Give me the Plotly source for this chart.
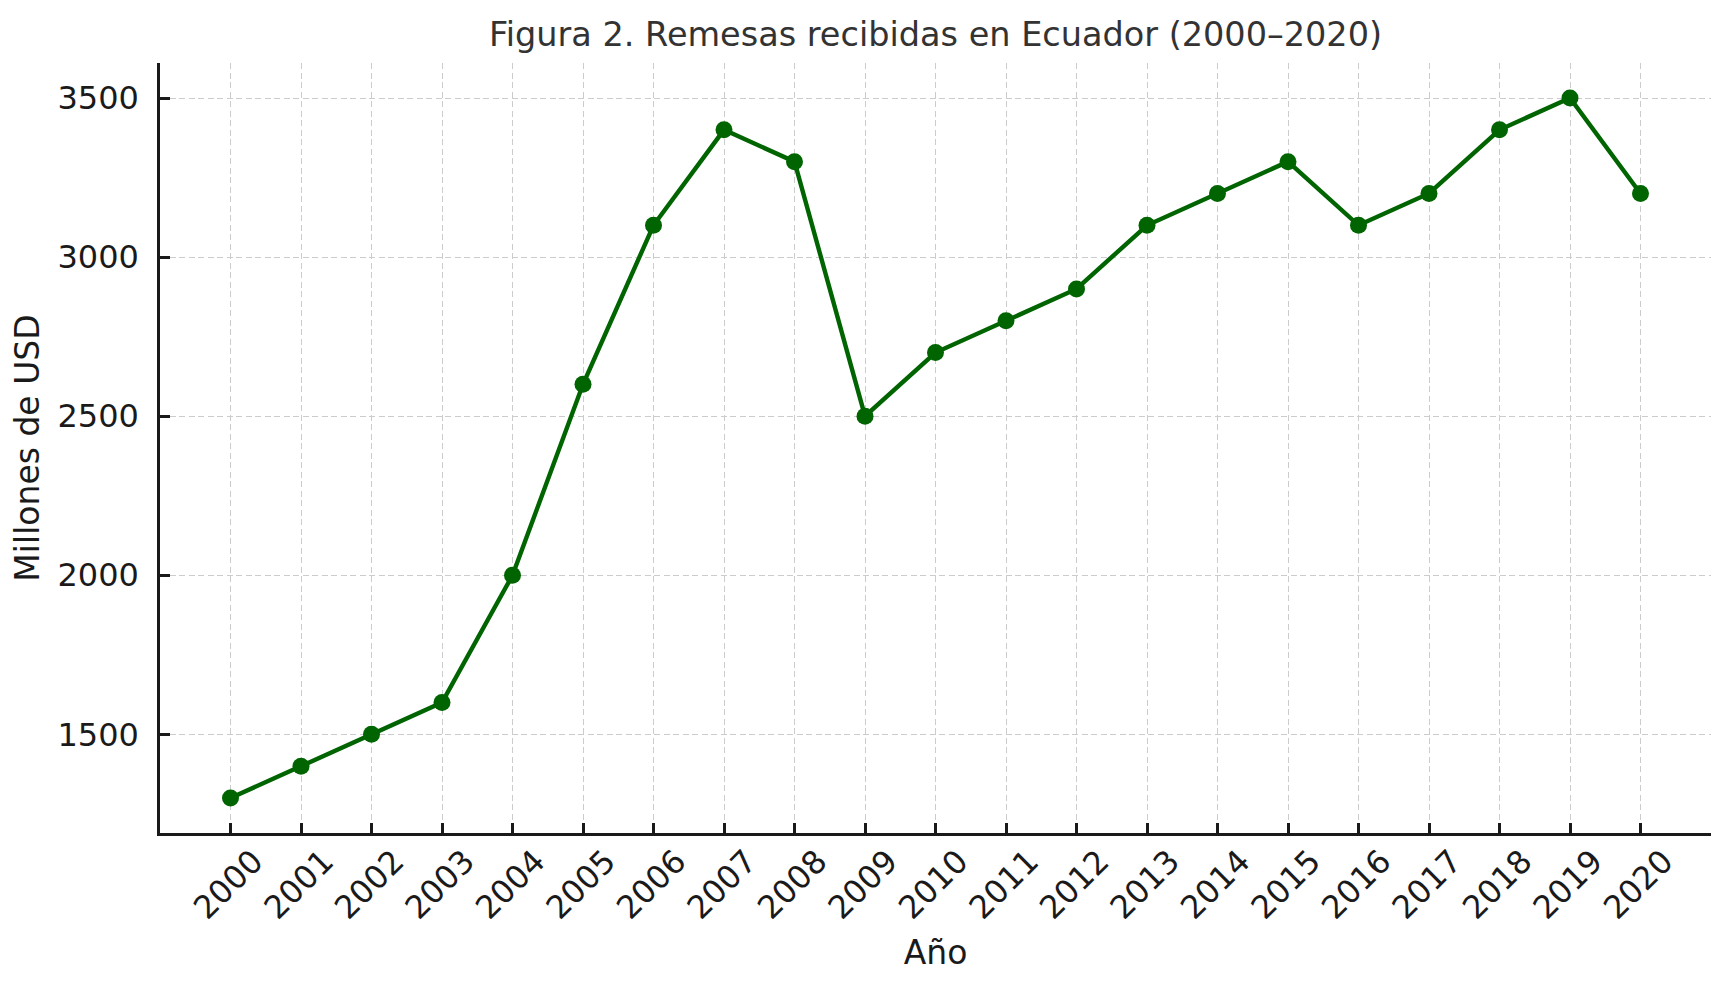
import plotly.graph_objects as go

years = [2000, 2001, 2002, 2003, 2004, 2005, 2006, 2007, 2008, 2009, 2010,
         2011, 2012, 2013, 2014, 2015, 2016, 2017, 2018, 2019, 2020]
remesas = [1300, 1400, 1500, 1600, 2000, 2600, 3100, 3400, 3300, 2500, 2700,
           2800, 2900, 3100, 3200, 3300, 3100, 3200, 3400, 3500, 3200]
y_ticks = [1500, 2000, 2500, 3000, 3500]
title_text = "Figura 2. Remesas recibidas en Ecuador (2000–2020)"

FONT = "DejaVu Sans"
GREEN = "#006400"
AXIS = "#1a1a1a"

fig = go.Figure()
fig.add_trace(go.Scatter(
    x=years, y=remesas, mode="lines+markers",
    line=dict(color=GREEN, width=4.4),
    marker=dict(color=GREEN, size=17, line=dict(width=0)),
    showlegend=False,
))

fig.update_layout(
    width=1728, height=990,
    margin=dict(l=160, r=17, t=63, b=157),
    paper_bgcolor="white", plot_bgcolor="white",
    font=dict(family=FONT, color=AXIS, size=32),
    title=dict(text=title_text, x=0.5, xref="paper", xanchor="center",
               y=1 - 34 / 990, yref="container", yanchor="middle",
               font=dict(family=FONT, size=33.5, color="#333333")),
)

fig.update_xaxes(
    range=[1999, 2021], tickmode="array", tickvals=years,
    ticktext=[str(y) for y in years], tickangle=-45,
    ticks="inside", ticklen=10, tickwidth=2.5, tickcolor=AXIS,
    showline=True, linecolor=AXIS, linewidth=2.5, mirror=False,
    showgrid=True, gridcolor="#cccccc", gridwidth=1.35, griddash="6px,3.5px",
    zeroline=False, tickfont=dict(size=32, color=AXIS),
    ticklabelshift=23, ticklabelstandoff=-6,
    title=dict(text="Año", font=dict(size=33, color=AXIS), standoff=16),
)
fig.update_yaxes(
    range=[1190, 3610], tickmode="array", tickvals=y_ticks,
    ticktext=[str(v) for v in y_ticks],
    ticks="inside", ticklen=10, tickwidth=2.5, tickcolor=AXIS,
    showline=True, linecolor=AXIS, linewidth=2.5, mirror=False,
    showgrid=True, gridcolor="#cccccc", gridwidth=1.35, griddash="6px,3.5px",
    zeroline=False, tickfont=dict(size=32, color=AXIS),
    ticklabelstandoff=12,
    title=dict(text="Millones de USD", font=dict(size=33, color=AXIS), standoff=8),
)

fig.write_html("out.html")
